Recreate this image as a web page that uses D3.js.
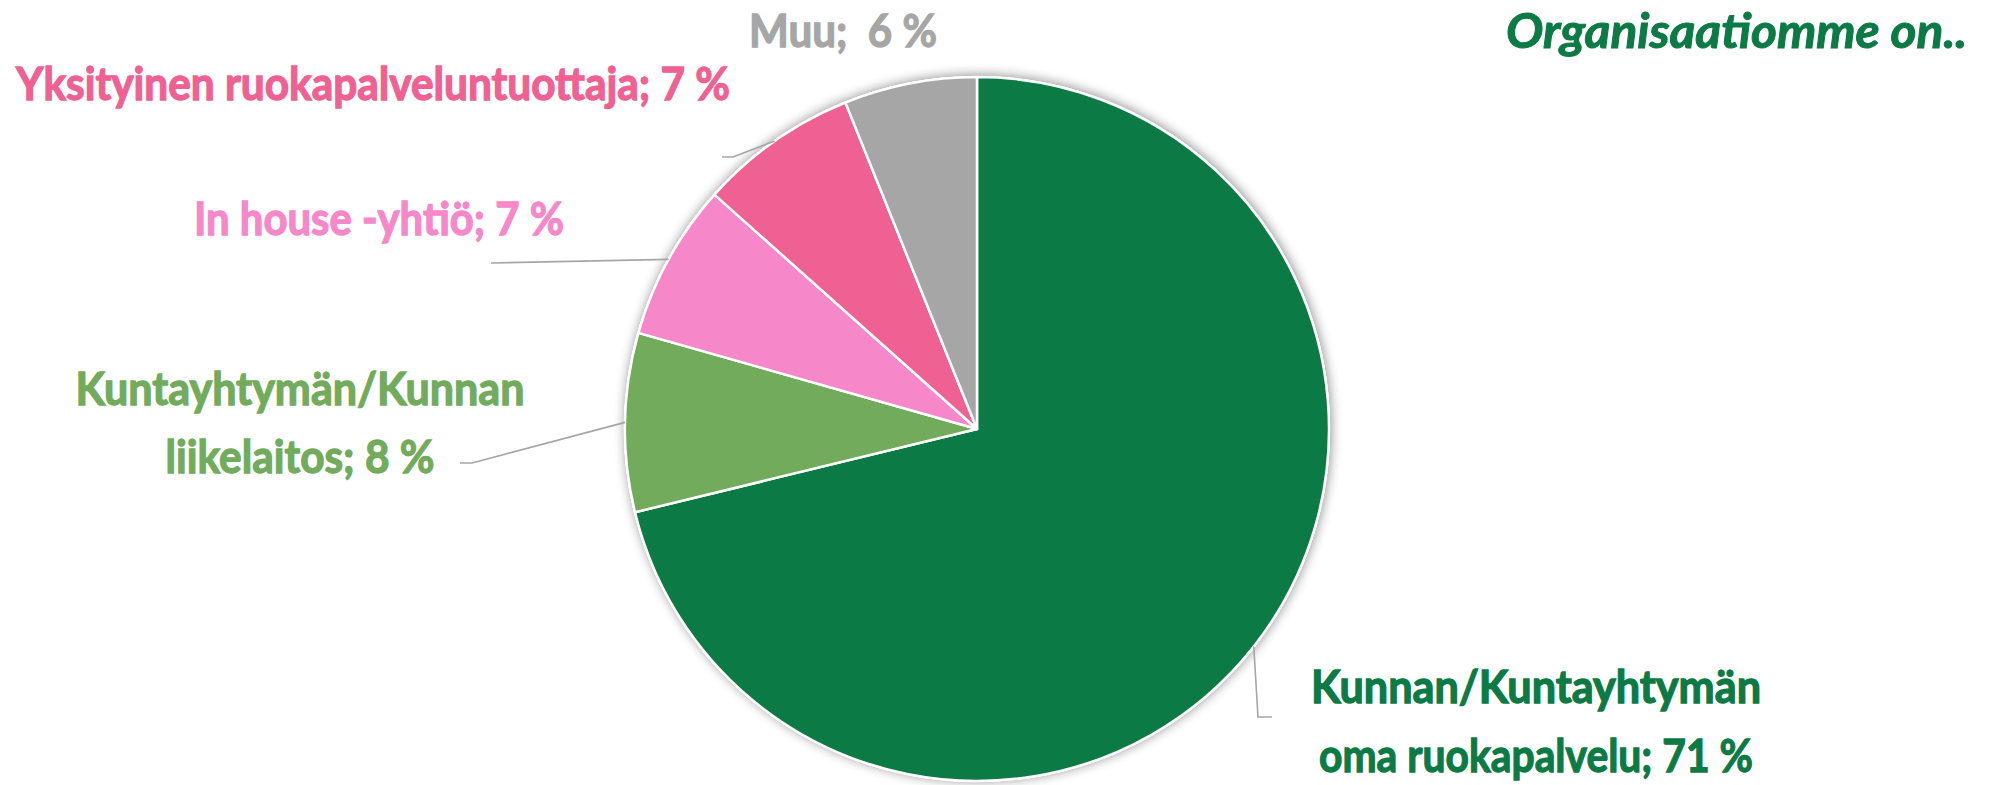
<!DOCTYPE html>
<html>
<head>
<meta charset="utf-8">
<script src="https://cdn.jsdelivr.net/npm/d3@7"></script>
<style>
  body { margin: 0; background: #fff; }
  svg { display: block; font-family: Lato, "Open Sans", sans-serif; }
</style>
</head>
<body>
<svg></svg>
<script>
const size = {w: 1991, h: 785};
const pieCenter = {x: 977, y: 429};
const radius = 352;

// data (clockwise from 12 o'clock)
const categories = ['Kunnan/Kuntayhtymän oma ruokapalvelu', 'Kuntayhtymän/Kunnan liikelaitos',
    'In house -yhtiö', 'Yksityinen ruokapalveluntuottaja', 'Muu'];
const values = [71.2, 8.2, 7.2, 7.3, 6.1];
const valueLabels = ['71 %', '8 %', '7 %', '7 %', '6 %'];
const colors = ['#0c7a45', '#72ab5c', '#f688c9', '#ef6192', '#a6a6a6'];
const title = 'Organisaatiomme on..';

// label layout: lines, anchor point (middle of text block), widths of each line, leader bends
const labelLayout = [
    {lines: ['Kunnan/Kuntayhtymän', 'oma ruokapalvelu; 71 %'], x: 1536, y: [703, 772], widths: [450, 434],
        leader: [[1258, 717], [1272, 717]]},
    {lines: ['Kuntayhtymän/Kunnan', 'liikelaitos; 8 %'], x: 300, y: [405, 473], widths: [449, 269],
        leader: [[472, 463], [460, 463]]},
    {lines: ['In house -yhtiö; 7 %'], x: 379, y: [235], widths: [370],
        leader: [[491, 263]]},
    {lines: ['Yksityinen ruokapalveluntuottaja; 7 %'], x: 373, y: [100], widths: [714],
        leader: [[733, 157], [722, 157]]},
    {lines: ['Muu;  6 %'], x: 843, y: [47], widths: [188],
        leader: null}
];

const svg = d3.select('svg')
    .attr('width', size.w)
    .attr('height', size.h);

// soft glow/shadow round the pie
const defs = svg.append('defs');
const filter = defs.append('filter').attr('id', 'glow')
    .attr('x', '-10%').attr('y', '-10%').attr('width', '120%').attr('height', '120%');
filter.append('feGaussianBlur').attr('in', 'SourceAlpha').attr('stdDeviation', 6).attr('result', 'blur');
filter.append('feOffset').attr('in', 'blur').attr('dx', 1).attr('dy', -1).attr('result', 'off');
filter.append('feComponentTransfer').attr('in', 'off').attr('result', 'shadow')
    .append('feFuncA').attr('type', 'linear').attr('slope', 0.45);
const merge = filter.append('feMerge');
merge.append('feMergeNode').attr('in', 'shadow');
merge.append('feMergeNode').attr('in', 'SourceGraphic');

const pie = d3.pie().sort(null).value(d => d);
const arcs = pie(values);
const arc = d3.arc().innerRadius(0).outerRadius(radius);
const edgeArc = d3.arc().innerRadius(radius).outerRadius(radius);

const pieG = svg.append('g')
    .attr('transform', `translate(${pieCenter.x},${pieCenter.y})`);

pieG.append('circle')
    .attr('r', radius + 1)
    .style('fill', '#fff')
    .attr('filter', 'url(#glow)');

pieG.selectAll('path.slice')
    .data(arcs)
    .join('path')
    .classed('slice', true)
    .attr('d', arc)
    .style('fill', (d, i) => colors[i])
    .style('stroke', '#fff')
    .style('stroke-width', 2.5)
    .style('stroke-linejoin', 'round');

// leader lines
const leaderLine = d3.line();
svg.append('g').selectAll('path')
    .data(arcs.filter((d, i) => labelLayout[i].leader))
    .join('path')
    .attr('d', d => {
        const c = edgeArc.centroid(d);
        const pts = [[pieCenter.x + c[0], pieCenter.y + c[1]]].concat(labelLayout[d.index].leader);
        return leaderLine(pts);
    })
    .style('fill', 'none')
    .style('stroke', '#a6a6a6')
    .style('stroke-width', 1.6);

// labels (thin stroke in the same colour to get the heavy look of the original)
const labelG = svg.append('g');
arcs.forEach((d, i) => {
    const lay = labelLayout[i];
    lay.lines.forEach((line, j) => {
        labelG.append('text')
            .attr('x', lay.x)
            .attr('y', lay.y[j])
            .attr('text-anchor', 'middle')
            .attr('textLength', lay.widths[j])
            .attr('lengthAdjust', 'spacingAndGlyphs')
            .style('font-size', '46px')
            .style('font-weight', 700)
            .style('fill', colors[i])
            .style('stroke', colors[i])
            .style('stroke-width', 1.3)
            .style('white-space', 'pre')
            .text(line);
    });
});

// title
svg.append('text')
    .attr('x', 1967)
    .attr('y', 48)
    .attr('text-anchor', 'end')
    .attr('textLength', 461)
    .attr('lengthAdjust', 'spacingAndGlyphs')
    .style('font-size', '47px')
    .style('font-weight', 700)
    .style('font-style', 'italic')
    .style('fill', colors[0])
    .style('stroke', colors[0])
    .style('stroke-width', 1)
    .text(title);
</script>
</body>
</html>
